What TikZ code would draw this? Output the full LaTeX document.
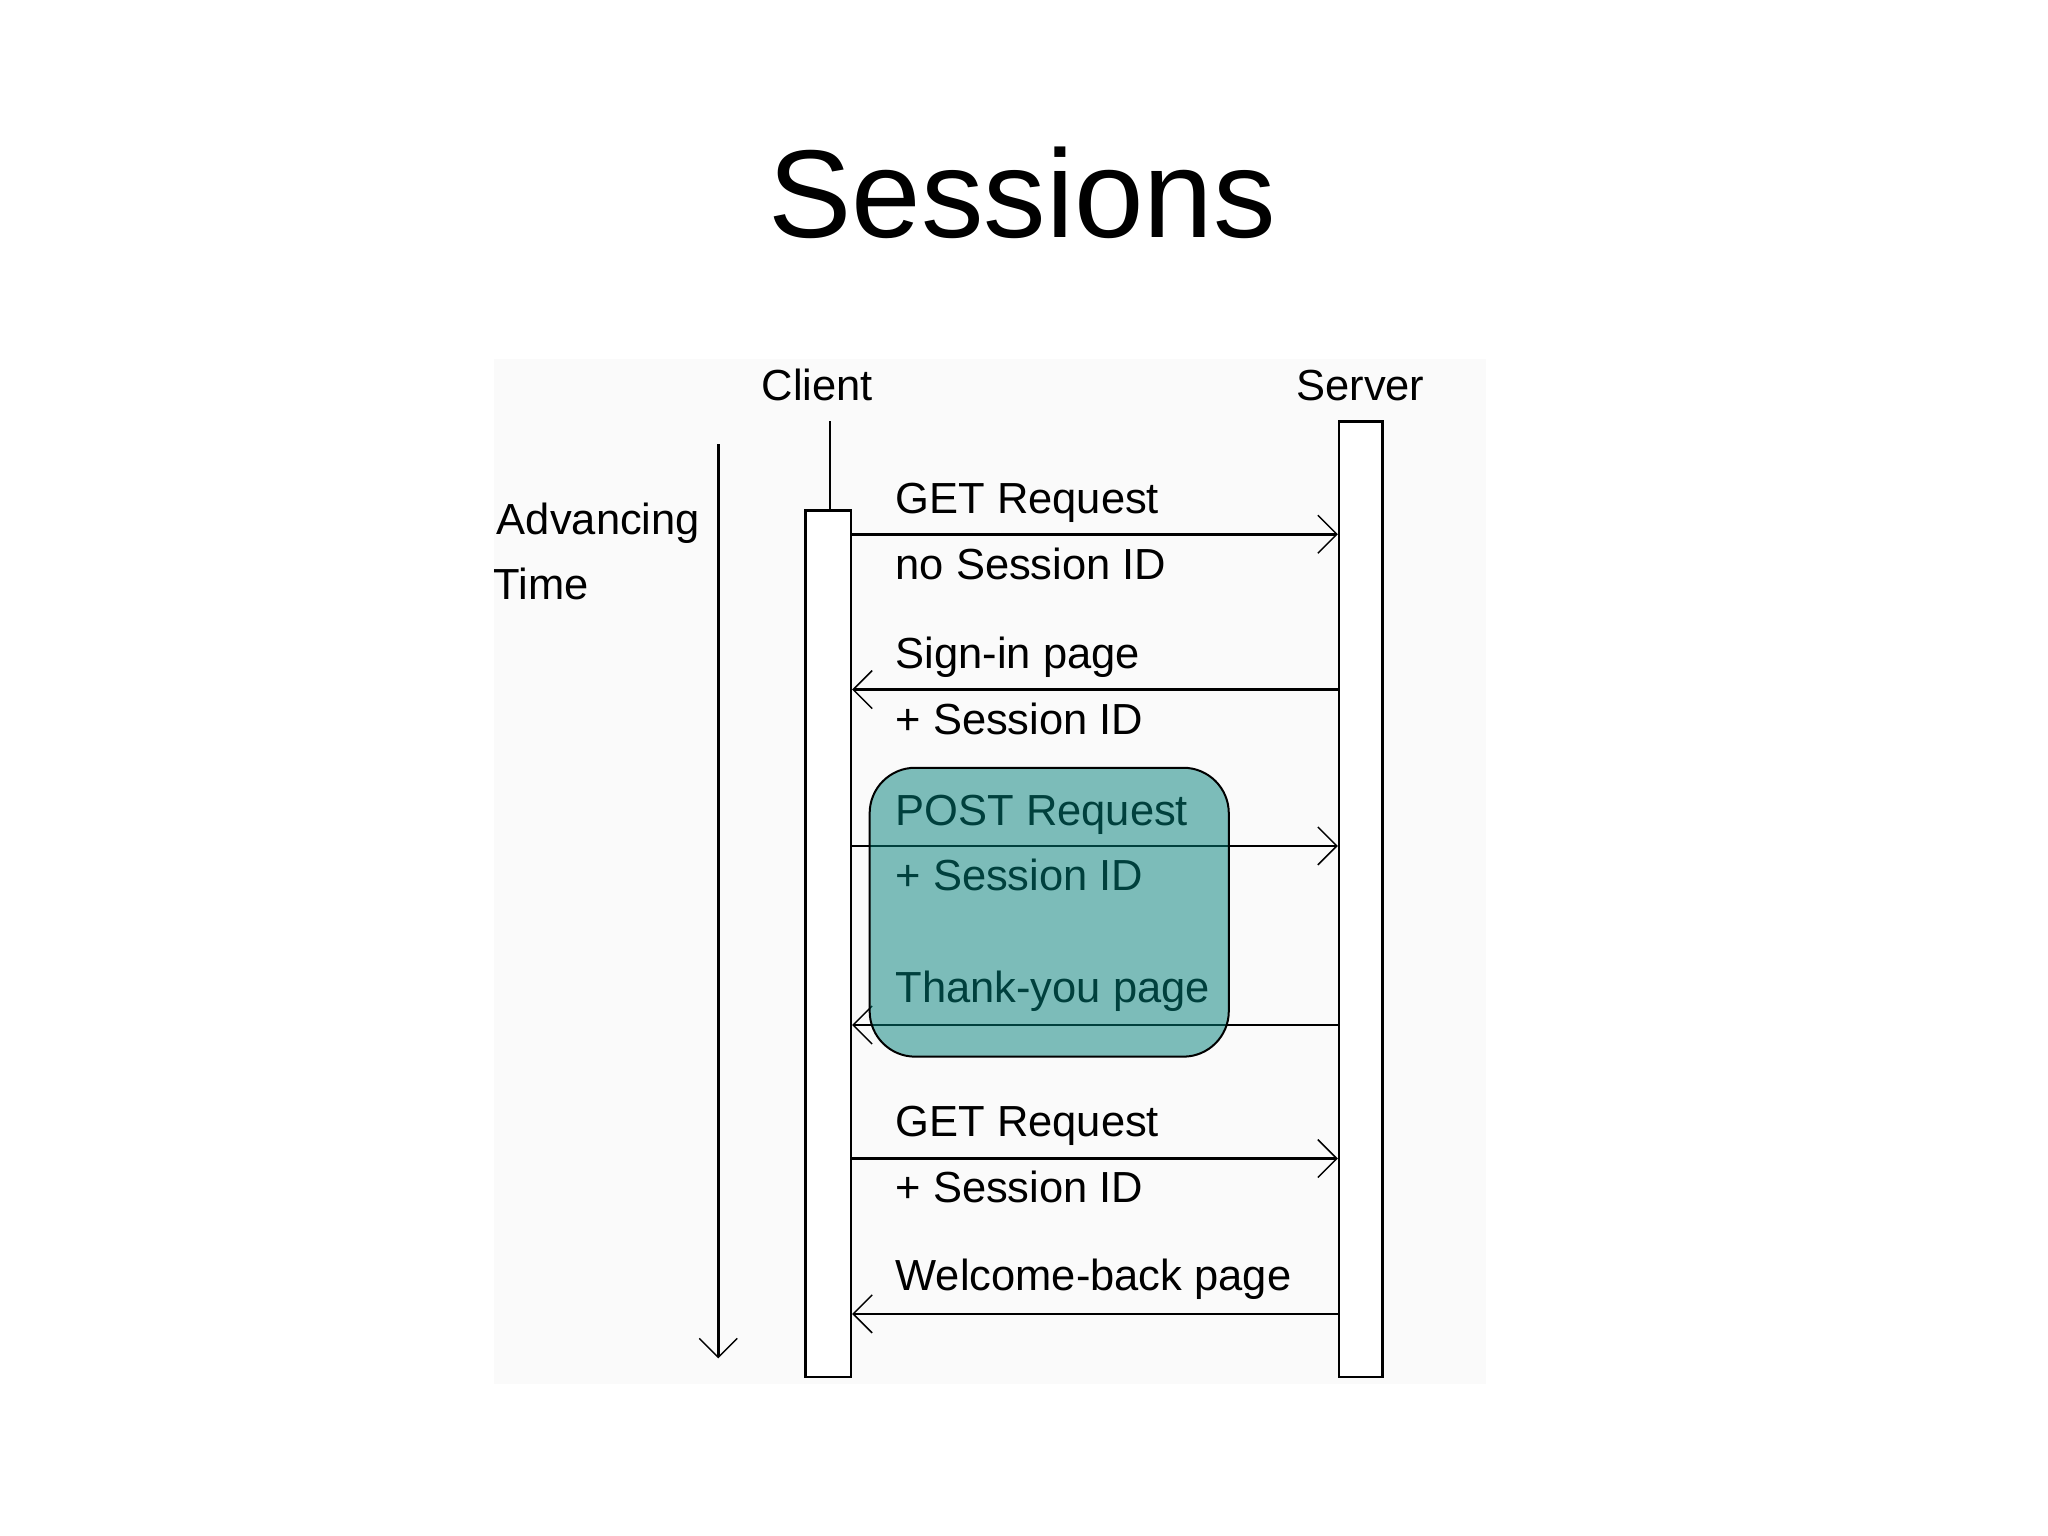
\documentclass[tikz,border=0pt]{standalone}
\usepackage{fontspec}
\setmainfont{Liberation Sans}
\usetikzlibrary{arrows.meta}
\definecolor{panelgrey}{RGB}{250,250,250}
\definecolor{tealbox}{RGB}{0,128,122}
\begin{document}
\begin{tikzpicture}[x=0.9894pt,y=-0.9894pt,
  lbl/.style={anchor=base west,inner sep=0pt,font=\fontsize{43.5}{52}\selectfont},
  head/.style={anchor=base,inner sep=0pt,font=\fontsize{43.5}{52}\selectfont},
  bar/.style={draw=black,line width=2.5pt,fill=white,inner sep=0pt},
  msg/.style={draw=black,line width=2.5pt,-{Straight Barb[length=19pt,width=38pt,line width=1.5pt]}},
]
\useasboundingbox (0,0) rectangle (2070,1552.4);
\fill[white] (0,0) rectangle (2070,1552.4);
\fill[panelgrey] (499,363) rectangle (1502,1399);
% title
\node[anchor=base,inner sep=0pt,font=\fontsize{125}{150}\selectfont] (title) at (1033,240) {Sessions};
% headers
\node[head] (client) at (826,405) {Client};
\node[head] (server) at (1375,405) {Server};
% time
\node[lbl] (adv) at (502,540) {Advancing};
\node[lbl] (time) at (499,606) {Time};
\coordinate (t0) at (726,449);
\coordinate (t1) at (726,1373);
\draw[msg] (t0) -- (t1);
% lifelines
\node[bar,minimum width=45.5pt,minimum height=866.7pt] (cbox) at (837,954) {};
\node[bar,minimum width=43.5pt,minimum height=955.8pt] (sbox) at (1375.5,909) {};
\coordinate (ctop) at (839,426);
\draw[line width=2.5pt] (ctop) -- (cbox.north -| ctop);
% messages
\coordinate (c1) at (cbox.east |- 0,540);  \coordinate (s1) at (sbox.west |- 0,540);
\coordinate (c2) at (cbox.east |- 0,697);  \coordinate (s2) at (sbox.west |- 0,697);
\coordinate (c3) at (cbox.east |- 0,855);  \coordinate (s3) at (sbox.west |- 0,855);
\coordinate (c4) at (cbox.east |- 0,1036); \coordinate (s4) at (sbox.west |- 0,1036);
\coordinate (c5) at (cbox.east |- 0,1171); \coordinate (s5) at (sbox.west |- 0,1171);
\coordinate (c6) at (cbox.east |- 0,1328); \coordinate (s6) at (sbox.west |- 0,1328);
\draw[msg] (c1) -- (s1);
\draw[msg] (s2) -- (c2);
\draw[msg] (c3) -- (s3);
\draw[msg] (s4) -- (c4);
\draw[msg] (c5) -- (s5);
\draw[msg] (s6) -- (c6);
% labels
\node[lbl] (m1a) at (905,519) {GET Request};
\node[lbl] (m1b) at (905,586) {no Session ID};
\node[lbl] (m2a) at (905,676) {Sign-in page};
\node[lbl] (m2b) at (905,742) {+ Session ID};
\node[lbl] (m3a) at (905,834) {POST Request};
\node[lbl] (m3b) at (905,900) {+ Session ID};
\node[lbl] (m4a) at (905,1013) {Thank-you page};
\node[lbl] (m5a) at (905,1149) {GET Request};
\node[lbl] (m5b) at (905,1215) {+ Session ID};
\node[lbl] (m6a) at (905,1304) {Welcome-back page};
% highlight
\draw[line width=2pt,draw=black,fill=tealbox,fill opacity=0.5,rounded corners=45.5pt] (879,776) rectangle (1242,1068);
\end{tikzpicture}
\end{document}
